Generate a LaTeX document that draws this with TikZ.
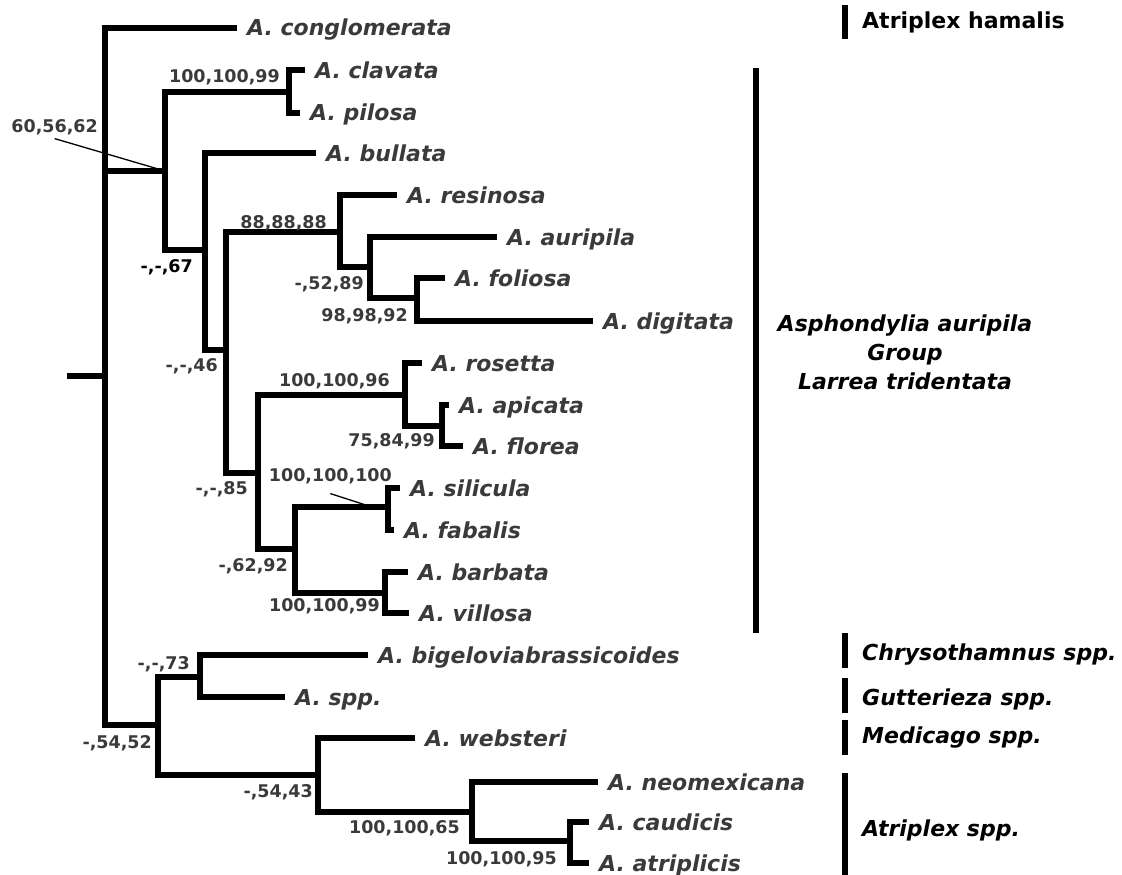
\documentclass[tikz,border=0pt]{standalone}
\usepackage{fontspec}
\setmainfont{DejaVu Sans}
\definecolor{ink}{HTML}{3A3A3A}

\begin{document}
\begin{tikzpicture}[x=1pt,y=-1pt,
  br/.style={line width=6pt,line join=miter},
  tip/.style={anchor=west,inner xsep=10pt,inner ysep=0pt,text height=16pt,text depth=0pt,text=ink,font=\fontsize{22}{26}\selectfont\bfseries\itshape},
  lab/.style={anchor=east,inner sep=0pt,text height=12.8pt,text depth=0pt,text=ink,font=\fontsize{17.5}{20}\selectfont\bfseries},
  grp/.style={anchor=west,inner sep=0pt,text height=16pt,text depth=0pt,font=\fontsize{22}{26}\selectfont\bfseries\itshape},
  bar/.style={line width=6.5pt},
  lead/.style={line width=1.3pt}]
\useasboundingbox (0,0) rectangle (1122,875);

\coordinate (base) at (67,376);
\coordinate (root) at (105,376);
\coordinate (n1) at (165,171);
\coordinate (cp) at (289,92);
\coordinate (nX) at (205,250);
\coordinate (nY) at (226,350);
\coordinate (nR) at (340,232);
\coordinate (nA) at (370,267);
\coordinate (nF) at (417,298);
\coordinate (nZ) at (258,473);
\coordinate (nRo) at (405,395);
\coordinate (nAp) at (442,426);
\coordinate (nW) at (295,549);
\coordinate (nS) at (388,507);
\coordinate (nB) at (385,593);
\coordinate (n11) at (158,725);
\coordinate (n12) at (200,677);
\coordinate (n13) at (318,775);
\coordinate (n14) at (472,812);
\coordinate (n15) at (570,841);
\coordinate (p100) at (372,507);

\node[tip] (conglomerata) at (237,28) {A. conglomerata};
\node[tip] (clavata) at (305,70) {A. clavata};
\node[tip] (pilosa) at (300,113) {A. pilosa};
\node[tip] (bullata) at (316,153) {A. bullata};
\node[tip] (resinosa) at (397,195) {A. resinosa};
\node[tip] (auripila) at (497,237) {A. auripila};
\node[tip] (foliosa) at (445,278) {A. foliosa};
\node[tip] (digitata) at (593,321) {A. digitata};
\node[tip] (rosetta) at (422,363) {A. rosetta};
\node[tip] (apicata) at (449,405) {A. apicata};
\node[tip] (florea) at (463,446) {A. florea};
\node[tip] (silicula) at (400,488) {A. silicula};
\node[tip] (fabalis) at (394,530) {A. fabalis};
\node[tip] (barbata) at (408,572) {A. barbata};
\node[tip] (villosa) at (409,613) {A. villosa};
\node[tip] (bigelovia) at (368,655) {A. bigeloviabrassicoides};
\node[tip] (spp) at (285,697) {A. spp.};
\node[tip] (websteri) at (415,738) {A. websteri};
\node[tip] (neomexicana) at (598,782) {A. neomexicana};
\node[tip] (caudicis) at (589,822) {A. caudicis};
\node[tip] (atriplicis) at (589,863) {A. atriplicis};

\draw[br] (base) -- (root);
\draw[br] (root) |- (conglomerata.west);
\draw[br] (root) |- (n1);
\draw[br] (root) |- (n11);
\draw[br] (n1) |- (cp);
\draw[br] (n1) |- (nX);
\draw[br] (cp) |- (clavata.west);
\draw[br] (cp) |- (pilosa.west);
\draw[br] (nX) |- (bullata.west);
\draw[br] (nX) |- (nY);
\draw[br] (nY) |- (nR);
\draw[br] (nY) |- (nZ);
\draw[br] (nR) |- (resinosa.west);
\draw[br] (nR) |- (nA);
\draw[br] (nA) |- (auripila.west);
\draw[br] (nA) |- (nF);
\draw[br] (nF) |- (foliosa.west);
\draw[br] (nF) |- (digitata.west);
\draw[br] (nZ) |- (nRo);
\draw[br] (nZ) |- (nW);
\draw[br] (nRo) |- (rosetta.west);
\draw[br] (nRo) |- (nAp);
\draw[br] (nAp) |- (apicata.west);
\draw[br] (nAp) |- (florea.west);
\draw[br] (nW) |- (nS);
\draw[br] (nW) |- (nB);
\draw[br] (nS) |- (silicula.west);
\draw[br] (nS) |- (fabalis.west);
\draw[br] (nB) |- (barbata.west);
\draw[br] (nB) |- (villosa.west);
\draw[br] (n11) |- (n12);
\draw[br] (n11) |- (n13);
\draw[br] (n12) |- (bigelovia.west);
\draw[br] (n12) |- (spp.west);
\draw[br] (n13) |- (websteri.west);
\draw[br] (n13) |- (n14);
\draw[br] (n14) |- (neomexicana.west);
\draw[br] (n14) |- (n15);
\draw[br] (n15) |- (caudicis.west);
\draw[br] (n15) |- (atriplicis.west);

\node[lab] (l60) at (98,126) {60,56,62};
\node[lab] (l99a) at (280,76) {100,100,99};
\node[lab,text=black] (l67) at (193,266) {-,-,67};
\node[lab] (l46) at (218,365) {-,-,46};
\node[lab] (l88) at (327,222) {88,88,88};
\node[lab] (l89) at (364,283) {-,52,89};
\node[lab] (l92a) at (408,315) {98,98,92};
\node[lab] (l96) at (390,380) {100,100,96};
\node[lab] (l75) at (435,440) {75,84,99};
\node[lab] (l85) at (248,488) {-,-,85};
\node[lab] (l100) at (392,475) {100,100,100};
\node[lab] (l92b) at (288,565) {-,62,92};
\node[lab] (l99b) at (380,605) {100,100,99};
\node[lab] (l73) at (190,663) {-,-,73};
\node[lab] (l52) at (152,742) {-,54,52};
\node[lab] (l43) at (313,791) {-,54,43};
\node[lab] (l65) at (460,827) {100,100,65};
\node[lab] (l95) at (557,858) {100,100,95};

\draw[lead] ([yshift=-6pt]l60.south) -- (n1);
\draw[lead] ([yshift=-12pt]l100.south) -- (p100);

\draw[bar] (845,5) -- (845,39);
\draw[bar] (756,68) -- (756,633);
\draw[bar] (845,633) -- (845,668);
\draw[bar] (845,678) -- (845,713);
\draw[bar] (845,720) -- (845,755);
\draw[bar] (845,773) -- (845,875);

\node[grp,font=\fontsize{22}{26}\selectfont\bfseries] (hamalis) at (862,21) {Atriplex hamalis};
\node[align=center,inner sep=0pt,font=\fontsize{22}{29}\selectfont\bfseries\itshape] (auripilagrp) at (905,352) {Asphondylia auripila\\Group\\Larrea tridentata};
\node[grp] (chryso) at (862,652) {Chrysothamnus spp.};
\node[grp] (gutt) at (862,697) {Gutterieza spp.};
\node[grp] (medic) at (862,735) {Medicago spp.};
\node[grp] (atrspp) at (862,828) {Atriplex spp.};

\end{tikzpicture}
\end{document}
